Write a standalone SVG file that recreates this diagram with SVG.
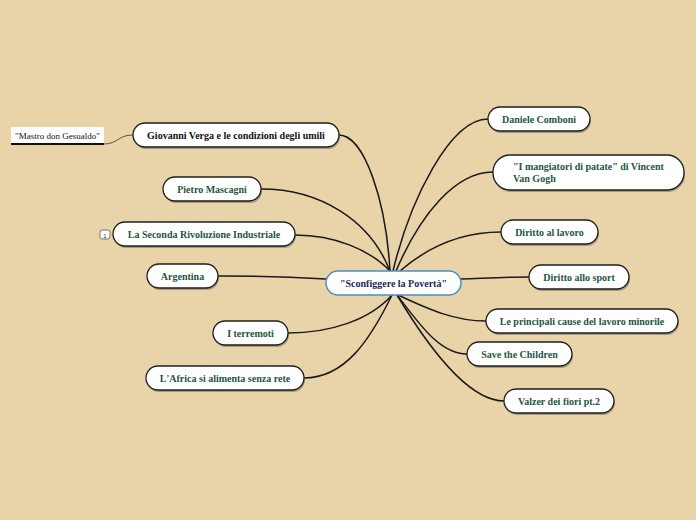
<svg xmlns="http://www.w3.org/2000/svg" width="696" height="520" viewBox="0 0 696 520">
<style>
.bg{fill:#e9d4a9}
.n{fill:#fff;stroke:#1e1e1e;stroke-width:1.3}
.sh{fill:#7a7466;opacity:.6}
.t{font-family:"Liberation Serif",serif;font-weight:bold;font-size:10px;fill:#1e5641;text-anchor:middle}
.tb{fill:#111}
.c{fill:none;stroke:#1a1a1a;stroke-width:1.5;stroke-linecap:round}
.cs{fill:none;stroke:#5a5448;stroke-width:1}
</style>
<rect class="bg" width="696" height="520"/>
<g id="connectors">
<path class="c" d="M390,271 C386,200 364,135 339,135"/>
<path class="c" d="M390,271 C370,220 320,189 261,189"/>
<path class="c" d="M390,271 C370,250 335,235 295,235"/>
<path class="c" d="M326,279 C290,277 250,276 218,276"/>
<path class="c" d="M392,295 C370,320 330,333 288,333"/>
<path class="c" d="M392,295 C370,340 345,378 304,378"/>
<path class="c" d="M393,271 C410,200 450,119 488,119"/>
<path class="c" d="M396,271 C420,215 455,172 493,172"/>
<path class="c" d="M400,271 C430,245 465,232 501,232"/>
<path class="c" d="M461,279 C490,278 510,277 529,277"/>
<path class="c" d="M398,295 C430,310 455,321 486,321"/>
<path class="c" d="M397,295 C420,325 440,354 467,354"/>
<path class="c" d="M397,295 C430,350 470,401 504,401"/>
<path class="cs" d="M104,144 C118,144 118,135 133,135"/>
</g>
<g id="center">
<rect x="326" y="271" width="135" height="24" rx="12" fill="#fff" stroke="#4a8fc6" stroke-width="1.5"/>
<text x="393.5" y="286.5" class="t" style="fill:#1c2a58">"Sconfiggere la Povertà"</text>
</g>
<g id="verga">
<rect class="sh" x="134" y="125" width="206" height="24" rx="12"/>
<rect class="n" x="133" y="123" width="206" height="24" rx="12"/>
<text x="236" y="138.5" class="t tb">Giovanni Verga e le condizioni degli umili</text>
</g>
<g id="mastro">
<rect x="11" y="127" width="93" height="17" fill="#fff"/>
<line x1="11" y1="144" x2="104" y2="144" stroke="#111" stroke-width="2"/>
<text x="57.5" y="138.5" font-family="'Liberation Serif',serif" font-size="9" fill="#111" text-anchor="middle">"Mastro don Gesualdo"</text>
</g>
<g id="mascagni">
<rect class="sh" x="164" y="179" width="98" height="24" rx="12"/>
<rect class="n" x="163" y="177" width="98" height="24" rx="12"/>
<text x="212" y="192.5" class="t">Pietro Mascagni</text>
</g>
<g id="rivoluzione">
<rect x="100" y="230" width="10" height="9" rx="2.5" fill="#fff" stroke="#555" stroke-width="0.8"/>
<text x="105" y="237.5" font-family="'Liberation Sans',sans-serif" font-size="6" fill="#333" text-anchor="middle">1</text>
<rect class="sh" x="114" y="224" width="182" height="24" rx="12"/>
<rect class="n" x="113" y="222" width="182" height="24" rx="12"/>
<text x="204" y="237.5" class="t">La Seconda Rivoluzione Industriale</text>
</g>
<g id="argentina">
<rect class="sh" x="148" y="266" width="71" height="24" rx="12"/>
<rect class="n" x="147" y="264" width="71" height="24" rx="12"/>
<text x="182.5" y="279.5" class="t">Argentina</text>
</g>
<g id="terremoti">
<rect class="sh" x="214" y="323" width="75" height="24" rx="12"/>
<rect class="n" x="213" y="321" width="75" height="24" rx="12"/>
<text x="250.5" y="336.5" class="t">I terremoti</text>
</g>
<g id="africa">
<rect class="sh" x="147" y="368" width="158" height="24" rx="12"/>
<rect class="n" x="146" y="366" width="158" height="24" rx="12"/>
<text x="225" y="381.5" class="t">L'Africa si alimenta senza rete</text>
</g>
<g id="comboni">
<rect class="sh" x="489" y="109" width="102" height="24" rx="12"/>
<rect class="n" x="488" y="107" width="102" height="24" rx="12"/>
<text x="539" y="122.5" class="t">Daniele Comboni</text>
</g>
<g id="mangiatori">
<rect class="sh" x="494" y="157" width="191" height="35" rx="17"/>
<rect class="n" x="493" y="155" width="191" height="35" rx="17"/>
<text x="513" y="170" class="t" style="text-anchor:start">"I mangiatori di patate" di Vincent</text>
<text x="513" y="182" class="t" style="text-anchor:start">Van Gogh</text>
</g>
<g id="lavoro">
<rect class="sh" x="502" y="222" width="97" height="24" rx="12"/>
<rect class="n" x="501" y="220" width="97" height="24" rx="12"/>
<text x="549.5" y="235.5" class="t">Diritto al lavoro</text>
</g>
<g id="sport">
<rect class="sh" x="530" y="267" width="100" height="24" rx="12"/>
<rect class="n" x="529" y="265" width="100" height="24" rx="12"/>
<text x="579" y="280.5" class="t">Diritto allo sport</text>
</g>
<g id="minorile">
<rect class="sh" x="487" y="311" width="192" height="24" rx="12"/>
<rect class="n" x="486" y="309" width="192" height="24" rx="12"/>
<text x="582" y="324.5" class="t">Le principali cause del lavoro minorile</text>
</g>
<g id="children">
<rect class="sh" x="468" y="344" width="105" height="24" rx="12"/>
<rect class="n" x="467" y="342" width="105" height="24" rx="12"/>
<text x="519.5" y="357.5" class="t">Save the Children</text>
</g>
<g id="valzer">
<rect class="sh" x="505" y="391" width="110" height="24" rx="12"/>
<rect class="n" x="504" y="389" width="110" height="24" rx="12"/>
<text x="559" y="404.5" class="t">Valzer dei fiori pt.2</text>
</g>
</svg>
